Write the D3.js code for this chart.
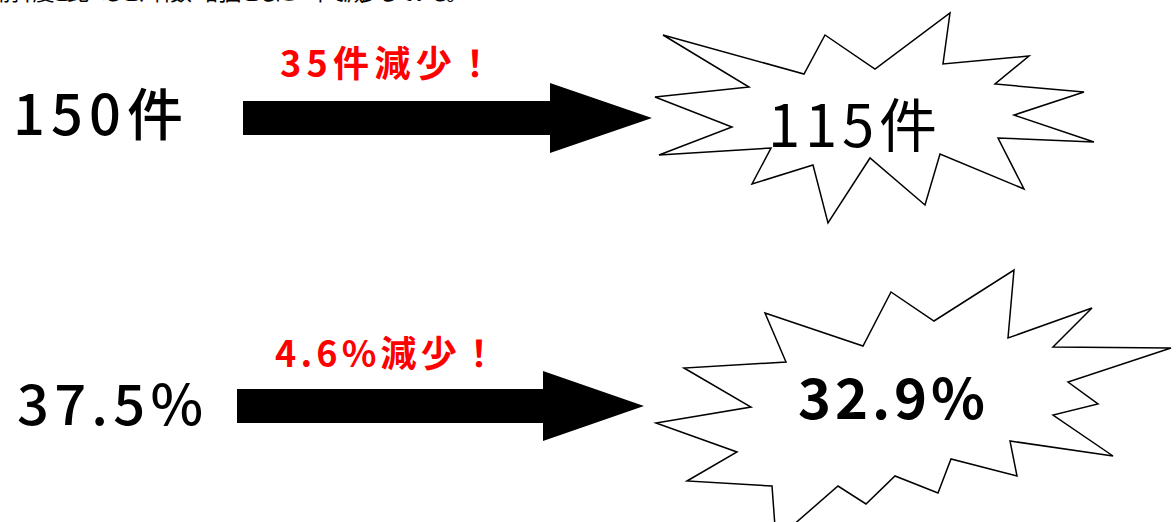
<!DOCTYPE html>
<html>
<head>
<meta charset="utf-8">
<script src="https://cdn.jsdelivr.net/npm/d3@7"></script>
<style>
  html, body { margin: 0; padding: 0; background: #fff; overflow: hidden; }
  svg { display: block; }
  text { font-family: "Noto Sans CJK JP", "Liberation Sans", sans-serif; }
</style>
</head>
<body>
<script>
// values before / after, and the change written above each arrow
var rows = ["件数", "割合"];
var beforeLabels = ["150件", "37.5%"];
var afterLabels = ["115件", "32.9%"];
var changeLabels = ["35件減少！", "4.6%減少！"];
var headerText = "前年度と比べると、件数・割合ともに一年で減少している。";

// outline of the two burst shapes, relative to the row centre line
var burstShapes = [
  [[663,-83],[804,-44],[825,-83],[875,-49],[950,-105],[943,-54],[1029,-62],[995,-34],
   [1084,-26],[1014,-3],[1094,24],[998,20],[1024,71],[940,36],[925,87],[870,40],
   [828,105],[813,47],[752,66],[771,30],[659,37],[732,9],[655,-21],[749,-31]],
  [[765,-93],[863,-60],[891,-114],[934,-85],[1014,-136],[1008,-68],[1092,-98],[1053,-59],
   [1171,-58],[1068,-24],[1098,-2],[1053,9],[1113,50],[1010,35],[1017,70],[951,53],
   [938,87],[895,70],[866,98],[838,80],[776,134],[772,80],[687,75],[737,46],
   [656,17],[751,1],[684,-38],[786,-44]]
];

var width = 1176,
    height = 522;

var svg = d3.select("body").append("svg")
    .attr("width", width)
    .attr("height", height);

var y = d3.scalePoint()
    .domain(rows)
    .range([118, 406]);

// per-row positions
var arrowX = [[243, 550, 652], [237, 543, 644]];

// first line of the page, mostly above the frame
svg.append("text")
    .attr("x", -2)
    .attr("y", 0)
    .attr("font-size", 22)
    .attr("textLength", 470)
    .attr("lengthAdjust", "spacing")
    .text(headerText);

var line = d3.line().curve(d3.curveLinearClosed);

var row = svg.selectAll(".row")
    .data(rows)
    .enter().append("g")
    .attr("class", "row")
    .attr("transform", function(d) { return "translate(0," + y(d) + ")"; });

// big arrow
row.append("path")
    .attr("fill", "#000")
    .attr("d", function(d, i) {
      var a = arrowX[i];
      return line([[a[0], -17], [a[1], -17], [a[1], -35], [a[2], 0],
                   [a[1], 35], [a[1], 17], [a[0], 17]]);
    });

// burst
row.append("path")
    .attr("fill", "#fff")
    .attr("stroke", "#000")
    .attr("stroke-width", 1.5)
    .attr("stroke-linejoin", "miter")
    .attr("d", function(d, i) { return line(burstShapes[i]); });

// before value
row.append("text")
    .attr("x", function(d, i) { return i === 0 ? 13 : 17; })
    .attr("y", function(d, i) { return i === 0 ? 17 : 19; })
    .attr("font-size", 56)
    .attr("font-weight", 500)
    .attr("textLength", function(d, i) { return i === 0 ? 170 : 186; })
    .attr("lengthAdjust", "spacing")
    .text(function(d, i) { return beforeLabels[i]; });

// change label
row.append("text")
    .attr("x", function(d, i) { return i === 0 ? 280 : 275; })
    .attr("y", function(d, i) { return i === 0 ? -41 : -39; })
    .attr("font-size", 36)
    .attr("font-weight", 700)
    .attr("fill", "#ff0000")
    .attr("textLength", function(d, i) { return i === 0 ? 213 : 222; })
    .attr("lengthAdjust", "spacing")
    .text(function(d, i) { return changeLabels[i]; });

// after value
row.append("text")
    .attr("x", function(d, i) { return i === 0 ? 768 : 798; })
    .attr("y", function(d, i) { return i === 0 ? 29 : 13; })
    .attr("font-size", function(d, i) { return i === 0 ? 58 : 56; })
    .attr("font-weight", function(d, i) { return i === 0 ? 400 : 700; })
    .attr("textLength", function(d, i) { return i === 0 ? 169 : 187; })
    .attr("lengthAdjust", "spacing")
    .text(function(d, i) { return afterLabels[i]; });
</script>
</body>
</html>
